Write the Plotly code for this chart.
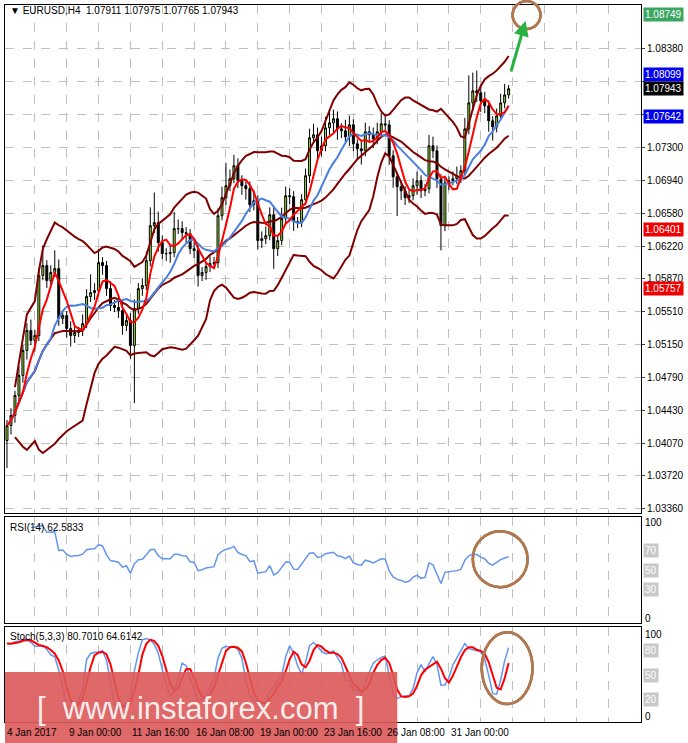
import numpy as np
import pandas as pd
import plotly.graph_objects as go
from plotly.subplots import make_subplots

closes = [1.04265,1.04374,1.04593,1.04811,1.05084,1.05302,1.05193,1.05247,1.05902,1.06011,
1.05847,1.05935,1.05978,1.05433,1.05465,1.05324,1.05247,1.05280,1.05302,1.05378,
1.05673,1.05716,1.05738,1.06044,1.06011,1.05760,1.05575,1.05553,1.05520,1.05356,
1.05411,1.05138,1.05542,1.05760,1.05793,1.06065,1.06447,1.06480,1.06262,1.06142,
1.06142,1.06153,1.06415,1.06415,1.06371,1.06360,1.06196,1.06175,1.05902,1.05935,
1.06000,1.06033,1.06044,1.06556,1.06753,1.06884,1.06960,1.07102,1.06938,1.06884,
1.06851,1.06676,1.06720,1.06284,1.06305,1.06338,1.06567,1.06196,1.06284,1.06524,
1.06775,1.06764,1.06491,1.06480,1.06731,1.06993,1.07407,1.07440,1.07265,1.07320,
1.07516,1.07571,1.07615,1.07505,1.07484,1.07418,1.07549,1.07342,1.07287,1.07265,
1.07473,1.07440,1.07396,1.07473,1.07560,1.07549,1.07211,1.06982,1.06873,1.06829,
1.06753,1.06775,1.06884,1.06938,1.06829,1.06851,1.07320,1.07265,1.06960,1.06447,
1.06916,1.06938,1.06960,1.06993,1.07047,1.07505,1.07789,1.07920,1.07898,1.07811,
1.07756,1.07593,1.07527,1.07647,1.07789,1.07876,1.07943]
first_open = 1.04100
upper_wick_pips = [6,8,5,10,6,8,12,6,8,22, 6,8,20,10,6,5,8,6,4,10, 8,20,8,15,6,5,8,6,12,10,
6,8,10,6,8,10,20,33,12,8, 6,8,18,10,8,6,5,8,6,6, 5,8,6,8,12,25,10,12,8,6,
5,8,12,6,8,10,8,10,6,12, 10,8,6,5,6,8,10,12,8,10, 12,15,10,8,6,12,10,6,5,8,
10,6,8,10,12,8,5,6,4,6, 5,6,8,10,6,5,12,10,6,5, 6,5,8,10,6,12,30,20,22,8,
10,6,5,8,10,12,4]
lower_wick_pips = [30,10,8,6,8,10,5,12,6,5, 8,6,5,8,6,10,12,8,5,6, 5,6,8,6,10,8,6,5,8,10,
6,15,63,6,8,5,6,8,10,6, 8,10,5,6,8,10,6,8,12,6, 8,6,5,6,5,8,6,5,8,10,
12,8,6,10,8,6,5,22,8,5, 6,8,10,6,5,6,8,5,10,6, 6,8,10,12,8,6,10,8,12,15,
6,8,10,6,5,8,10,12,32,10, 8,6,5,10,8,6,5,8,10,27, 6,8,5,6,8,5,6,8,10,12,
8,12,15,6,5,6,4]
date_labels = ["4 Jan 2017","9 Jan 00:00","11 Jan 16:00","16 Jan 08:00","19 Jan 00:00",
               "23 Jan 16:00","26 Jan 08:00","31 Jan 00:00"]
date_pos = [-0.5,15,31,47,63,79,95,111]
levels = [(1.08749,"#3aa660"),(1.08099,"#0000ee"),(1.07642,"#0000ee"),(1.06401,"#ee0000"),(1.05757,"#ee0000")]
price_ticks = [1.08380,1.07300,1.06940,1.06580,1.06220,1.05870,1.05510,1.05150,1.04790,1.04430,1.04070,1.03720,1.03360]
grid_ticks = [1.0838,1.0802,1.0766,1.0730,1.0694,1.0658,1.0622,1.0587,1.0551,1.0515,1.0479,1.0443,1.0407,1.0372,1.0336]

n = len(closes)
c = pd.Series(closes)
o = pd.Series([first_open] + closes[:-1])
h = pd.concat([o, c], axis=1).max(axis=1) + pd.Series(upper_wick_pips) * 0.0001
l = pd.concat([o, c], axis=1).min(axis=1) - pd.Series(lower_wick_pips) * 0.0001
idx = np.arange(n)

mid = c.rolling(20, min_periods=3).mean()
sd = c.rolling(20, min_periods=3).std(ddof=0)
ma_fast = c.rolling(5, min_periods=1).mean()
ma_blue = c.rolling(12, min_periods=1).mean()
d = c.diff()
up = d.clip(lower=0).ewm(alpha=1/14, adjust=False).mean()
dn = (-d.clip(upper=0)).ewm(alpha=1/14, adjust=False).mean()
rsi = 100 - 100 / (1 + up / dn.replace(0, np.nan))
hh = h.rolling(5, min_periods=1).max(); ll = l.rolling(5, min_periods=1).min()
k = ((c - ll).rolling(3, min_periods=1).sum() / (hh - ll).rolling(3, min_periods=1).sum()) * 100
dd = k.rolling(3, min_periods=1).mean()

fig = make_subplots(rows=3, cols=1, shared_xaxes=True, vertical_spacing=0)
fig.add_trace(go.Candlestick(x=idx, open=o, high=h, low=l, close=c,
    increasing=dict(line=dict(color="black", width=1), fillcolor="#9be22e"),
    decreasing=dict(line=dict(color="black", width=1), fillcolor="black"),
    whiskerwidth=0, showlegend=False), row=1, col=1)
for s in [mid + 2*sd, mid, mid - 2*sd]:
    fig.add_trace(go.Scatter(x=idx, y=s, mode="lines", line=dict(color="#800000", width=2), showlegend=False), row=1, col=1)
fig.add_trace(go.Scatter(x=idx, y=ma_blue, mode="lines", line=dict(color="#4a7fe0", width=2), showlegend=False), row=1, col=1)
fig.add_trace(go.Scatter(x=idx, y=ma_fast, mode="lines", line=dict(color="#ff0000", width=2), showlegend=False), row=1, col=1)
fig.add_trace(go.Scatter(x=idx, y=rsi, mode="lines", line=dict(color="#6495ed", width=1.5), showlegend=False), row=2, col=1)
fig.add_trace(go.Scatter(x=idx, y=k, mode="lines", line=dict(color="#6495ed", width=1.5), showlegend=False), row=3, col=1)
fig.add_trace(go.Scatter(x=idx, y=dd, mode="lines", line=dict(color="#ff0000", width=2), showlegend=False), row=3, col=1)

def px(x): return (x - 4) / 639
def py(y): return (722 - y) / 718

fig.add_hline(y=closes[-1], line=dict(color="#b0b0b0", width=1), row=1, col=1)
for v, col in levels:
    fig.add_hline(y=v, line=dict(color=col, width=2), row=1, col=1)
for lv in [70, 50, 30]:
    fig.add_hline(y=lv, line=dict(color="#c0c0c0", width=1.5), row=2, col=1)
for lv in [80, 50, 20]:
    fig.add_hline(y=lv, line=dict(color="#c0c0c0", width=1.5), row=3, col=1)

ann = []
for v, col in levels + [(closes[-1], "black")]:
    ann.append(dict(x=1.003, xref="paper", y=v, yref="y", xanchor="left", yanchor="middle",
        text=f"{v:.5f}", showarrow=False, bgcolor=col, font=dict(color="white", size=10, family="Liberation Sans")))
for lv, yref in [(70,"y2"),(50,"y2"),(30,"y2"),(80,"y3"),(50,"y3"),(20,"y3")]:
    ann.append(dict(x=1.003, xref="paper", y=lv, yref=yref, xanchor="left", yanchor="middle",
        text=str(lv), showarrow=False, bgcolor="#c8c8c8", font=dict(color="white", size=10, family="Liberation Sans")))
for lv, yref in [(100,"y2"),(0,"y2"),(100,"y3"),(0,"y3")]:
    ann.append(dict(x=1.003, xref="paper", y=lv, yref=yref, xanchor="left", yanchor="middle",
        text=str(lv), showarrow=False, font=dict(color="black", size=10, family="Liberation Sans")))
for t, p in zip(date_labels, date_pos):
    ann.append(dict(x=p, xref="x", y=-0.004, yref="paper", xanchor="left", yanchor="top",
        text=t, showarrow=False, font=dict(color="black", size=10, family="Liberation Sans")))
ann.append(dict(x=px(7), y=py(10), xref="paper", yref="paper", xanchor="left", yanchor="middle", showarrow=False,
    text="▼ EURUSD,H4  1.07911 1.07975 1.07765 1.07943", font=dict(size=10, family="Liberation Sans", color="black")))
ann.append(dict(x=px(7), y=py(527), xref="paper", yref="paper", xanchor="left", yanchor="middle", showarrow=False,
    text="RSI(14) 62.5833", font=dict(size=10, family="Liberation Sans", color="black")))
ann.append(dict(x=px(7), y=py(636), xref="paper", yref="paper", xanchor="left", yanchor="middle", showarrow=False,
    text="Stoch(5,3,3) 80.7010 64.6142", font=dict(size=10, family="Liberation Sans", color="black")))
ann.append(dict(x=px(527), y=py(20), ax=-15, ay=52, xref="paper", yref="paper", axref="pixel", ayref="pixel",
    showarrow=True, arrowhead=2, arrowsize=1, arrowwidth=3, arrowcolor="#28b040", text=""))
ann.append(dict(x=px(200), y=py(708), xref="paper", yref="paper", xanchor="center", yanchor="middle", showarrow=False,
    text="[  www.instaforex.com  ]", font=dict(size=31, family="Liberation Sans", color="rgba(255,255,255,0.9)")))

shapes = [
    dict(type="circle", xref="paper", yref="paper", x0=px(514), x1=px(542), y0=py(28), y1=py(0), line=dict(color="#b07850", width=2.5)),
    dict(type="circle", xref="paper", yref="paper", x0=px(474), x1=px(529), y0=py(587), y1=py(531), line=dict(color="#b07850", width=2.5)),
    dict(type="circle", xref="paper", yref="paper", x0=px(483), x1=px(534), y0=py(704), y1=py(632), line=dict(color="#b07850", width=2.5)),
    dict(type="rect", xref="paper", yref="paper", x0=0, x1=px(398), y0=py(672), y1=py(743), fillcolor="rgba(220,90,90,0.55)", line=dict(width=0), layer="above"),
]

fig.update_layout(width=688, height=743, margin=dict(l=4, r=45, t=4, b=21), plot_bgcolor="white", paper_bgcolor="white",
    annotations=ann, shapes=shapes, font=dict(family="Liberation Sans", size=10, color="black"))
gx = dict(range=[-0.5, 159.25], tickvals=list(range(7, 160, 8)), showticklabels=False, showgrid=True,
          gridcolor="#c0c0c0", griddash="dash", gridwidth=1, showline=True, linecolor="black", mirror=True,
          rangeslider=dict(visible=False), zeroline=False)
fig.update_xaxes(**gx)
fig.update_layout(
    yaxis=dict(domain=[py(513), 1], range=[1.03305, 1.08858], side="right", tickvals=grid_ticks,
               ticktext=[f"{v:.5f}" if any(abs(v-t)<1e-4 for t in price_ticks) else "" for v in grid_ticks],
               showgrid=True, gridcolor="#c0c0c0", griddash="dash", showline=True, linecolor="black", mirror=True,
               ticks="outside", ticklen=3, zeroline=False),
    yaxis2=dict(domain=[py(623), py(517)], range=[-5, 105], side="right", showticklabels=False, showgrid=False,
                showline=True, linecolor="black", mirror=True, zeroline=False),
    yaxis3=dict(domain=[0, py(627)], range=[-7.3, 108.5], side="right", showticklabels=False, showgrid=False,
                showline=True, linecolor="black", mirror=True, zeroline=False),
)
fig.write_html("out.html", config={"displayModeBar": False},
               post_script="document.body.style.margin='0';document.body.style.overflow='hidden';")
